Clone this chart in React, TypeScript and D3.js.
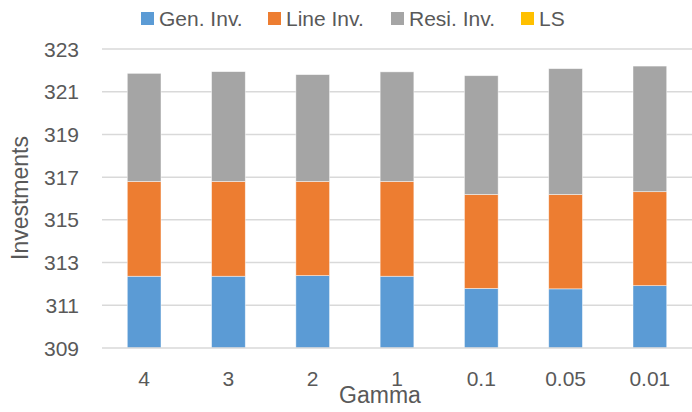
import React from "react";
import * as d3 from "d3";

const categories = ["4", "3", "2", "1", "0.1", "0.05", "0.01"];
const seriesNames = ["Gen. Inv.", "Line Inv.", "Resi. Inv.", "LS"];
const genInv = [312.36, 312.36, 312.39, 312.36, 311.79, 311.77, 311.92];
const lineInv = [4.44, 4.44, 4.41, 4.44, 4.4, 4.42, 4.4];
const resiInv = [5.06, 5.14, 5.0, 5.13, 5.56, 5.89, 5.88];
const ls = [0, 0, 0, 0, 0, 0, 0];
const yTicks = [309, 311, 313, 315, 317, 319, 321, 323];
const colors = ["#5B9BD5", "#ED7D31", "#A5A5A5", "#FFC000"];

const W = 692;
const H = 412;
const FONT = "'Liberation Sans', Arial, sans-serif";
const TEXT = "#595959";

export default function App() {
  const x = d3.scaleBand<string>().domain(categories).range([102, 692]).paddingInner(0.6).paddingOuter(0.3);
  const y = d3.scaleLinear().domain([309, 323]).range([348, 49]);

  const rows = categories.map((c, i) => ({
    cat: c,
    s0: genInv[i],
    s1: lineInv[i],
    s2: resiInv[i],
    s3: ls[i],
  }));
  const stack = d3.stack<any>().keys(["s0", "s1", "s2", "s3"]);
  const layers = stack(rows);

  const legendX = [141, 268, 391, 521];

  return (
    <svg width={W} height={H} style={{ position: "absolute", left: 0, top: 0, background: "#fff" }}>
      {yTicks.slice(1).map((t) => (
        <line key={t} x1={102} x2={692} y1={y(t)} y2={y(t)} stroke="#D9D9D9" strokeWidth={1.5} />
      ))}
      {layers.map((layer, li) => (
        <g key={li} fill={colors[li]}>
          {layer.map((d, i) => {
            const y0 = Math.max(d[0], 309);
            const y1 = d[1];
            if (y1 - y0 <= 0) return null;
            return (
              <rect
                key={i}
                x={x(categories[i])}
                width={x.bandwidth()}
                y={y(y1)}
                height={y(y0) - y(y1)}
                stroke="#ffffff"
                strokeOpacity={0.6}
                strokeWidth={0.75}
              />
            );
          })}
        </g>
      ))}
      <line x1={102} x2={692} y1={y(309)} y2={y(309)} stroke="#D9D9D9" strokeWidth={1.5} />
      {yTicks.map((t) => (
        <text key={t} x={79} y={y(t) + 7.5} textAnchor="end" fontFamily={FONT} fontSize={21} fill={TEXT}>
          {t}
        </text>
      ))}
      {categories.map((c) => (
        <text key={c} x={(x(c) as number) + x.bandwidth() / 2} y={386} textAnchor="middle" fontFamily={FONT} fontSize={21} fill={TEXT}>
          {c}
        </text>
      ))}
      <text x={380} y={403} textAnchor="middle" fontFamily={FONT} fontSize={23} fill={TEXT}>
        Gamma
      </text>
      <text
        transform={`translate(28,198) rotate(-90)`}
        textAnchor="middle"
        fontFamily={FONT}
        fontSize={23}
        fill={TEXT}
      >
        Investments
      </text>
      {seriesNames.map((n, i) => (
        <g key={n}>
          <rect x={legendX[i]} y={12} width={13} height={13} fill={colors[i]} />
          <text x={legendX[i] + 18} y={26} fontFamily={FONT} fontSize={21} fill={TEXT}>
            {n}
          </text>
        </g>
      ))}
    </svg>
  );
}
